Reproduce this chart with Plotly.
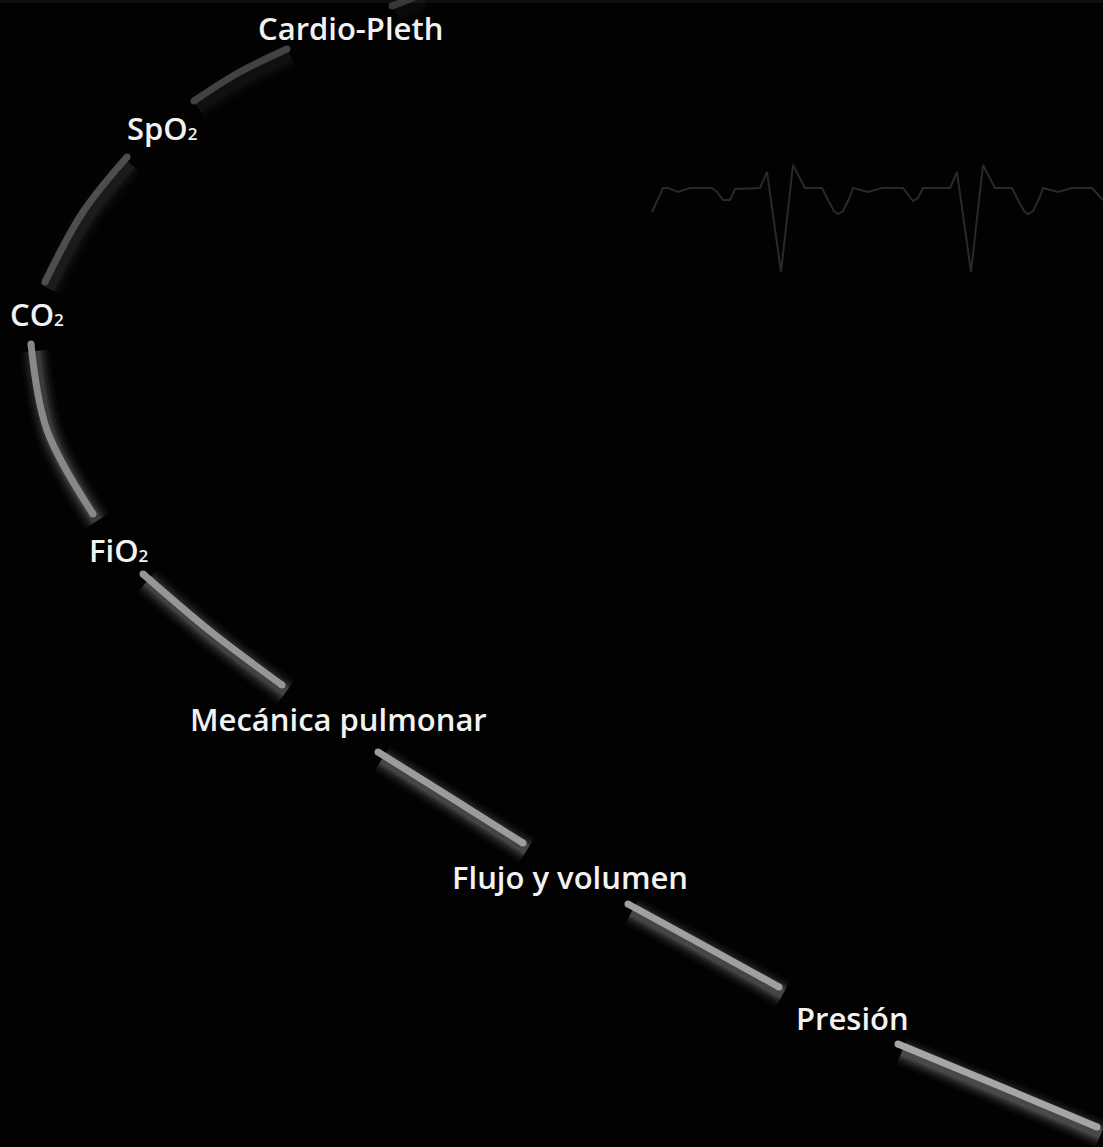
import plotly.graph_objects as go

W, H = 1103, 1147

# Arc segments (pixel coordinates in the 1103x1147 canvas; y grows downward)
seg_x0 = [392, 194, 127, 31, 143, 378, 628, 898]
seg_y0 = [6, 101, 157, 344, 574, 752, 904, 1044]
seg_xm = [405, 238, 83, 47, 210, 450, 703, 997]
seg_ym = [1, 73, 212, 430, 631, 797, 945, 1085]
seg_x1 = [420, 287, 45, 93, 282, 523, 779, 1097]
seg_y1 = [-5, 49, 282, 514, 685, 843, 987, 1127]
seg_colors = ["#38383a", "#424244", "#4e4e50", "#88888a", "#96969a", "#9c9ca0", "#a0a0a4", "#a6a6aa"]
glow_alpha = [0.015, 0.02, 0.035, 0.075, 0.085, 0.09, 0.09, 0.095]

# Labels (base text + optional subscript)
label_main = ["Cardio-Pleth", "SpO", "CO", "FiO", "Mecánica pulmonar", "Flujo y volumen", "Presión"]
label_sub = ["", "2", "2", "2", "", "", ""]
label_x = [350, 162, 37, 118, 338, 570, 852]
label_y = [28, 128, 314, 550, 719, 877, 1018]

# ECG trace
ecg_x = [652, 663, 668, 678, 690, 712, 717, 723, 730, 735, 760, 767, 781, 793, 805,
         822, 828, 834, 838, 843, 849, 853, 868, 882, 903, 908, 913, 918, 923, 950,
         957, 971, 983, 995, 1012, 1018, 1024, 1028, 1033, 1039, 1043, 1058, 1072, 1092, 1103]
ecg_y = [212, 188, 188, 192, 188, 188, 192, 200, 200, 189, 188, 172, 272, 165, 188,
         188, 200, 211, 214, 211, 199, 188, 192, 188, 188, 195, 201, 198, 188, 188,
         172, 272, 165, 188, 188, 200, 211, 214, 211, 199, 188, 192, 188, 188, 200]

fig = go.Figure()

# faint band at the very top
fig.add_shape(type="rect", xref="paper", yref="y", x0=0, x1=1, y0=0, y1=3,
              line_width=0, fillcolor="#0f0f11", layer="below")

# ECG
fig.add_trace(go.Scatter(x=ecg_x, y=ecg_y, mode="lines",
                         line=dict(color="#29292c", width=2), hoverinfo="skip", showlegend=False))

# glow + segments
glow_dx, glow_dy = 4, 7
glow_layers = [(30, 0.35), (24, 0.5), (19, 0.7), (14, 0.9), (10, 1.0)]
for i in range(len(seg_x0)):
    xs = [seg_x0[i], seg_xm[i], seg_x1[i]]
    ys = [seg_y0[i], seg_ym[i], seg_y1[i]]
    gx = [v + glow_dx for v in xs]
    gy = [v + glow_dy for v in ys]
    for w, a in glow_layers:
        fig.add_trace(go.Scatter(x=gx, y=gy, mode="lines", line_shape="spline",
                                 line=dict(color=f"rgba(255,255,255,{glow_alpha[i]*a:.4f})", width=w),
                                 hoverinfo="skip", showlegend=False))
    fig.add_trace(go.Scatter(x=xs, y=ys, mode="lines", line_shape="spline",
                             line=dict(color=seg_colors[i], width=7),
                             hoverinfo="skip", showlegend=False))
    fig.add_trace(go.Scatter(x=[xs[0], xs[-1]], y=[ys[0], ys[-1]], mode="markers",
                             marker=dict(color=seg_colors[i], size=7, line=dict(width=0)),
                             hoverinfo="skip", showlegend=False))

for m, s, x, y in zip(label_main, label_sub, label_x, label_y):
    text = m + (f"<span style='font-size:17px'>{s}</span>" if s else "")
    fig.add_annotation(x=x, y=y, text=text, showarrow=False, xanchor="center", yanchor="middle",
                       font=dict(family="Open Sans", size=31, color="#f2f2f2", weight=600))

fig.update_layout(
    width=W, height=H, margin=dict(l=0, r=0, t=0, b=0),
    paper_bgcolor="#020202", plot_bgcolor="#020202",
    xaxis=dict(range=[0, W], visible=False, fixedrange=True),
    yaxis=dict(range=[H, 0], visible=False, fixedrange=True),
    showlegend=False,
)

fig.write_html("out.html", post_script="document.body.style.margin='0';",
               config={"displayModeBar": False})
